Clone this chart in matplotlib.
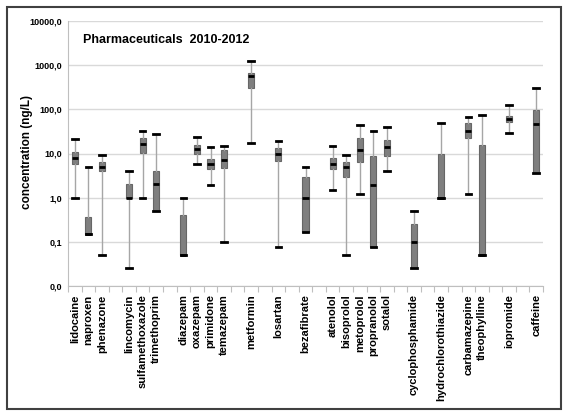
import matplotlib
matplotlib.use("Agg")
import matplotlib.pyplot as plt
from matplotlib.patches import Rectangle
from matplotlib.ticker import FixedLocator, FuncFormatter

plt.rcParams["font.family"] = ["Liberation Sans", "DejaVu Sans"]

# Compounds, grouped by therapeutic class (an empty slot separates groups)
groups = [
    ["lidocaine", "naproxen", "phenazone"],
    ["lincomycin", "sulfamethoxazole", "trimethoprim"],
    ["diazepam", "oxazepam", "primidone", "temazepam"],
    ["metformin"],
    ["losartan"],
    ["bezafibrate"],
    ["atenolol", "bisoprolol", "metoprolol", "propranolol", "sotalol"],
    ["cyclophosphamide"],
    ["hydrochlorothiazide"],
    ["carbamazepine", "theophylline"],
    ["iopromide"],
    ["caffeine"],
]

# Concentration statistics (ng/L), one entry per compound in the order above
minimum = [1.0, 0.15, 0.05, 0.025, 1.0, 0.5, 0.05, 5.9, 1.95, 0.1, 17.4, 0.075,
           0.17, 1.5, 0.05, 1.22, 0.075, 4.0, 0.025, 1.0, 1.22, 0.05, 28.6, 3.6]
quartile1 = [5.9, 0.15, 4.0, 1.0, 10.5, 0.5, 0.05, 9.8, 4.4, 4.8, 302, 6.9,
             0.17, 4.4, 2.9, 6.4, 0.075, 8.8, 0.025, 1.0, 22, 0.05, 53, 3.6]
median = [7.9, 0.15, 5.0, 1.0, 16.8, 2.0, 0.05, 12.7, 5.9, 7.0, 560, 10,
          1.0, 5.9, 5.0, 11.7, 1.95, 13.8, 0.1, 1.0, 33, 0.05, 61, 46]
quartile3 = [10.9, 0.37, 6.4, 2.0, 23, 4.0, 0.4, 15.9, 7.7, 11.7, 664, 13.2,
             2.9, 7.8, 6.4, 23, 8.8, 20, 0.25, 9.5, 50, 15.6, 70, 95]
maximum = [21.8, 4.9, 9.1, 4.0, 32.5, 27.7, 1.0, 23.8, 13.7, 14.8, 1245, 19.3,
           4.9, 14.8, 9.3, 43.7, 31.5, 39, 0.5, 48, 66, 76, 126, 310]

y_ticks = [0.01, 0.1, 1, 10, 100, 1000, 10000]

# Slot positions: compounds in a group are adjacent, groups separated by one slot
names, positions = [], []
slot = 0
for g in groups:
    for name in g:
        names.append(name)
        positions.append(slot)
        slot += 1
    slot += 1
n_slots = slot - 1

W, H = 566, 412
fig = plt.figure(figsize=(W / 100, H / 100), dpi=100)
ax = fig.add_axes([68 / W, 1 - 286 / H, (543 - 68) / W, (286 - 21) / H])

stats = [
    dict(whislo=lo, q1=a, med=m, q3=b, whishi=hi, fliers=[])
    for lo, a, m, b, hi in zip(minimum, quartile1, median, quartile3, maximum)
]
ax.bxp(
    stats,
    positions=positions,
    widths=0.45,
    capwidths=0.42,
    patch_artist=True,
    showfliers=False,
    boxprops=dict(facecolor="#7f7f7f", edgecolor="#666666", linewidth=0.8),
    whiskerprops=dict(color="#a6a6a6", linewidth=1.0),
    capprops=dict(color="black", linewidth=2.0),
    medianprops=dict(color="black", linewidth=2.0),
    zorder=3,
)

ax.set_yscale("log")
ax.set_ylim(0.01, 10000)
ax.yaxis.set_major_locator(FixedLocator(y_ticks))
ax.yaxis.set_minor_locator(FixedLocator([]))
ax.yaxis.set_major_formatter(
    FuncFormatter(lambda v, p: f"{v:.1f}".replace(".", ","))
)
ax.tick_params(axis="y", length=0, pad=4, labelsize=6.5)
for lab in ax.get_yticklabels():
    lab.set_fontweight("bold")
ax.grid(axis="y", color="#d9d9d9", linewidth=1.0, zorder=0)

ax.set_xlim(-0.5, n_slots - 0.5)
ax.set_xticks(positions)
ax.set_xticklabels(names, rotation=90, fontsize=8, fontweight="bold")
ax.tick_params(axis="x", length=0, pad=6)
ax.xaxis.set_minor_locator(FixedLocator([k - 0.5 for k in range(n_slots + 1)]))
ax.tick_params(axis="x", which="minor", length=4, color="#bfbfbf", width=0.8)

for side in ("top", "right"):
    ax.spines[side].set_visible(False)
for side in ("left", "bottom"):
    ax.spines[side].set_color("#bfbfbf")
    ax.spines[side].set_linewidth(0.8)

fig.text(27 / W, 1 - 152 / H, "concentration (ng/L)", rotation=90,
         ha="center", va="center", fontsize=8.5, fontweight="bold")
fig.text(83 / W, 1 - 40 / H, "Pharmaceuticals  2010-2012",
         ha="left", va="center", fontsize=9, fontweight="bold")

fig.patches.append(Rectangle((7 / W, 3 / H), (561 - 7) / W, (409 - 7) / H,
                             transform=fig.transFigure, fill=False,
                             edgecolor="#404040", linewidth=1.5))

fig.savefig("out.png", dpi=100)
